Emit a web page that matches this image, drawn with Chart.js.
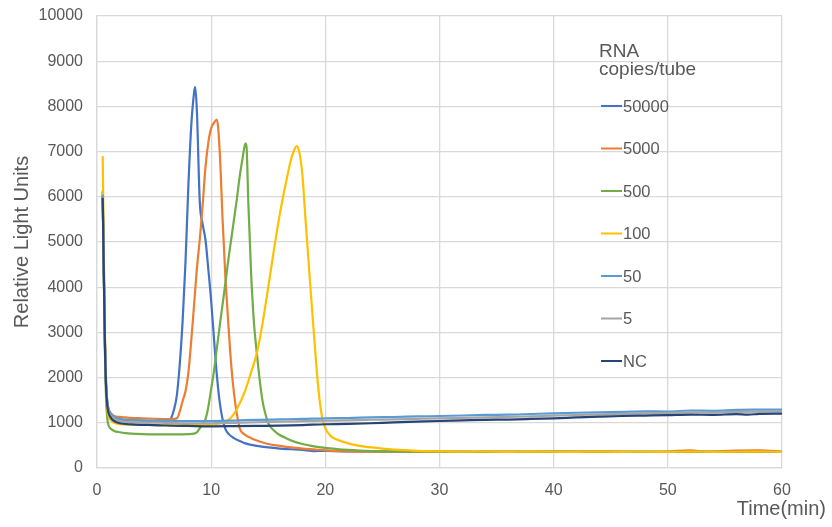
<!DOCTYPE html>
<html>
<head>
<meta charset="utf-8">
<title>Relative Light Units vs Time</title>
<script src="https://cdn.jsdelivr.net/npm/chart.js@4.4.1/dist/chart.umd.min.js"></script>
<style>
  html, body { margin: 0; padding: 0; background: #fff; }
  #wrap { width: 832px; height: 527px; }
</style>
</head>
<body>
<div id="wrap"><canvas id="rluChart" width="832" height="527"></canvas></div>
<script>
// [time (min), RLU]
const s50000 = [[0.5,6000],[0.6,4300],[0.7,2700],[0.8,1800],[0.9,1450],[1,1300],[1.25,1180],[1.5,1120],[2,1080],[3,1050],
  [4,1040],[5,1035],[6,1040],[6.4,1070],[6.75,1300],[7,1620],[7.25,2300],[7.5,3250],[7.75,4550],[8,6220],
  [8.25,7550],[8.5,8300],[8.6,8430],[8.75,7900],[9,5900],[9.25,5400],[9.5,5050],[9.75,4400],[10,3700],[10.25,2850],
  [10.5,2050],[10.75,1450],[11,1080],[11.25,860],[11.5,760],[12,660],[12.5,600],[13,545],[13.5,510],[14,490],
  [15,455],[16,430],[17,415],[18,400],[19,375],[20,380],[22,370],[24,365],[26,362],[28,358],
  [30,360],[35,355],[40,360],[45,356],[50,358],[55,355],[60,357]];

const s5000 = [[0.5,6100],[0.6,4400],[0.7,2800],[0.8,1850],[0.9,1480],[1,1320],[1.25,1200],[1.5,1150],[2,1130],[2.5,1120],
  [3,1110],[4,1100],[5,1090],[6,1080],[6.5,1080],[7,1100],[7.25,1250],[7.5,1480],[7.75,1700],[8,2100],
  [8.25,2800],[8.5,3600],[8.75,4420],[9,5050],[9.25,5800],[9.5,6650],[9.75,7200],[10,7520],[10.25,7640],[10.5,7710],
  [10.75,7000],[11,5500],[11.25,4200],[11.5,3200],[11.75,2300],[12,1650],[12.25,1200],[12.5,880],[13,730],[13.5,660],
  [14,610],[15,530],[16,490],[17,455],[18,430],[19,410],[20,390],[21,375],[22,368],[24,362],
  [26,365],[28,358],[30,362],[33,360],[36,365],[40,362],[44,368],[48,360],[50,365],[52,392],
  [53,365],[56,385],[58,390],[60,362]];

const s500 = [[0.5,6150],[0.6,4300],[0.7,2500],[0.8,1500],[0.9,1100],[1,950],[1.25,860],[1.5,820],[2,790],[2.5,770],
  [3,760],[4,750],[5,745],[6,745],[7,745],[8,750],[8.5,760],[8.75,790],[9,880],[9.25,960],
  [9.5,1080],[9.75,1350],[10,1750],[10.25,2150],[10.5,2650],[10.75,3150],[11,3620],[11.25,4100],[11.5,4600],[11.75,5050],
  [12,5500],[12.25,5950],[12.5,6450],[12.75,6850],[13,7180],[13.1,7100],[13.25,5900],[13.5,4300],[13.75,3200],[14,2540],
  [14.25,1950],[14.5,1480],[14.75,1200],[15,990],[15.5,830],[16,730],[16.5,670],[17,610],[18,530],[19,480],
  [20,445],[21,420],[22,400],[23,385],[24,375],[26,368],[28,362],[30,360],[35,358],[40,362],
  [45,357],[50,360],[55,358],[60,360]];

const s100 = [[0.5,6900],[0.6,4800],[0.7,2900],[0.8,1800],[0.9,1300],[1,1150],[1.25,1050],[1.5,1000],[2,970],[3,960],
  [4,955],[5,950],[6,948],[7,945],[8,950],[9,955],[10,960],[10.5,975],[11,1000],[11.5,1060],
  [12,1200],[12.5,1430],[13,1730],[13.5,2120],[14,2540],[14.5,3200],[15,4000],[15.5,4830],[16,5600],[16.5,6250],
  [17,6830],[17.25,7020],[17.5,7120],[17.75,6950],[18,6450],[18.25,5550],[18.5,4680],[18.75,3800],[19,2970],[19.25,2150],
  [19.5,1500],[19.75,1080],[20,880],[20.5,700],[21,630],[22,545],[23,490],[24,455],[25,430],[26,405],
  [28,380],[30,368],[32,360],[34,365],[36,358],[38,362],[40,360],[42,356],[44,362],[46,358],
  [48,360],[50,357],[52,362],[54,358],[56,360],[58,362],[60,358]];

const s50 = [[0.5,6050],[0.6,4350],[0.7,2750],[0.8,1820],[0.9,1470],[1,1310],[1.25,1190],[1.5,1130],[2,1085],[3,1065],
  [4,1055],[5,1050],[6,1048],[8,1040],[10,1040],[12,1050],[14,1065],[16,1075],[18,1085],[20,1100],
  [22,1105],[24,1120],[26,1128],[28,1140],[30,1150],[32,1162],[34,1175],[36,1180],[38,1195],[40,1210],
  [42,1222],[44,1232],[46,1240],[48,1252],[50,1250],[52,1272],[54,1265],[56,1285],[58,1290],[60,1292]];

const s5 = [[0.5,6000],[0.6,4300],[0.7,2700],[0.8,1780],[0.9,1420],[1,1270],[1.25,1150],[1.5,1090],[2,1040],[3,1020],
  [4,1010],[5,1005],[6,1000],[8,990],[10,990],[12,1000],[14,1012],[16,1025],[18,1035],[20,1045],
  [22,1055],[24,1068],[26,1075],[28,1088],[30,1100],[32,1108],[34,1118],[36,1130],[38,1142],[40,1160],
  [42,1172],[44,1188],[46,1198],[48,1210],[50,1220],[52,1232],[54,1228],[56,1240],[58,1248],[60,1250]];

const sNC = [[0.5,5980],[0.6,4250],[0.7,2650],[0.8,1750],[0.9,1380],[1,1230],[1.25,1100],[1.5,1040],[2,990],[3,965],
  [4,955],[5,950],[6,940],[8,930],[10,922],[12,925],[14,930],[16,936],[18,950],[20,968],
  [22,975],[24,990],[26,1010],[28,1025],[30,1040],[32,1052],[34,1065],[36,1072],[38,1085],[40,1100],
  [42,1118],[44,1135],[46,1150],[48,1160],[50,1170],[52,1182],[54,1175],[56,1192],[57,1180],[58,1198],[60,1205]];

const seriesNames = ['50000', '5000', '500', '100', '50', '5', 'NC'];
const seriesData = [s50000, s5000, s500, s100, s50, s5, sNC];
const seriesColors = ['#4472C4', '#ED7D31', '#70AD47', '#FFC000', '#5B9BD5', '#A5A5A5', '#264478'];

const xTicks = [0, 10, 20, 30, 40, 50, 60];
const yTicks = [0, 1000, 2000, 3000, 4000, 5000, 6000, 7000, 8000, 9000, 10000];

const FONT = '"Liberation Sans", Arial, sans-serif';
const TEXT_COLOR = '#595959';
const GRID_COLOR = '#d9d9d9';

// axis titles and the legend sit over the plot like in the original
const overlayText = {
    id: 'overlayText',
    afterDraw(chart) {
        const ctx = chart.ctx;
        ctx.save();
        ctx.fillStyle = TEXT_COLOR;

        // y axis title
        ctx.font = '20px ' + FONT;
        ctx.textAlign = 'center';
        ctx.textBaseline = 'middle';
        ctx.save();
        ctx.translate(22, 242);
        ctx.rotate(-Math.PI / 2);
        ctx.fillText('Relative Light Units', 0, 0);
        ctx.restore();

        // x axis title
        ctx.textAlign = 'right';
        ctx.fillText('Time(min)', 826, 509);

        // legend
        ctx.font = '19px ' + FONT;
        ctx.textAlign = 'left';
        ctx.textBaseline = 'alphabetic';
        ctx.fillText('RNA', 599, 57);
        ctx.fillText('copies/tube', 599, 75);

        ctx.font = '16.5px ' + FONT;
        ctx.textBaseline = 'middle';
        seriesNames.forEach((name, i) => {
            const y = 106 + i * 42.5;
            ctx.strokeStyle = seriesColors[i];
            ctx.lineWidth = 2;
            ctx.beginPath();
            ctx.moveTo(601, y);
            ctx.lineTo(622, y);
            ctx.stroke();
            ctx.fillText(name, 623, y + 1);
        });
        ctx.restore();
    }
};

const datasets = seriesData.map((pts, i) => ({
    label: seriesNames[i],
    data: pts.map(p => ({ x: p[0], y: p[1] })),
    borderColor: seriesColors[i],
    backgroundColor: seriesColors[i],
    borderWidth: 2.2,
    pointRadius: 0,
    fill: false,
    cubicInterpolationMode: 'monotone',
    order: seriesData.length - 1 - i
}));

new Chart(document.getElementById('rluChart'), {
    type: 'line',
    data: { datasets: datasets },
    options: {
        responsive: false,
        animation: false,
        devicePixelRatio: 1,
        layout: {
            padding: { left: 0, right: 50, top: 16, bottom: 0 }
        },
        plugins: {
            legend: { display: false },
            tooltip: { enabled: false }
        },
        scales: {
            x: {
                type: 'linear',
                min: 0,
                max: 60,
                afterFit: function(scale) {
                    scale.height = 59;
                    scale.paddingLeft = 0;
                    scale.paddingRight = 0;
                },
                afterBuildTicks: function(scale) {
                    scale.ticks = xTicks.map(v => ({ value: v }));
                },
                grid: { color: GRID_COLOR, lineWidth: 1.3, drawTicks: false },
                border: { color: GRID_COLOR, width: 1.3 },
                ticks: {
                    color: TEXT_COLOR,
                    padding: 13,
                    maxRotation: 0,
                    font: { family: FONT, size: 16 }
                }
            },
            y: {
                type: 'linear',
                min: 0,
                max: 10000,
                afterFit: function(scale) {
                    scale.width = 97;
                    scale.paddingTop = 0;
                    scale.paddingBottom = 0;
                },
                afterBuildTicks: function(scale) {
                    scale.ticks = yTicks.map(v => ({ value: v }));
                },
                grid: { color: GRID_COLOR, lineWidth: 1.3, drawTicks: false },
                border: { color: GRID_COLOR, width: 1.3 },
                ticks: {
                    color: TEXT_COLOR,
                    padding: 14,
                    font: { family: FONT, size: 16 },
                    callback: function(value) { return String(value); }
                }
            }
        }
    },
    plugins: [overlayText]
});
</script>
</body>
</html>
